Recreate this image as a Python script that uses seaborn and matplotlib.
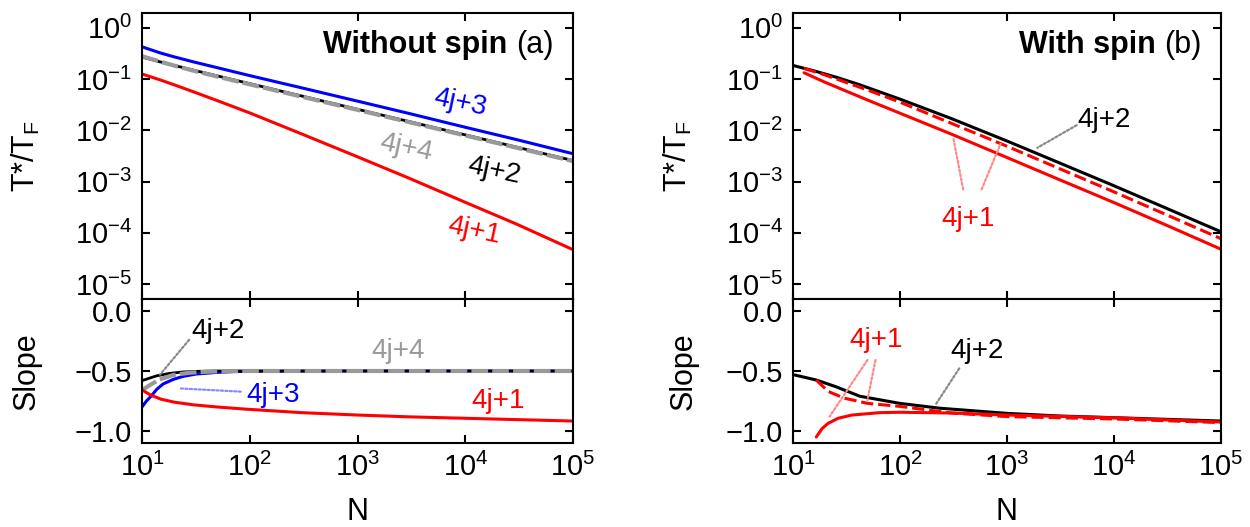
import numpy as np
import matplotlib
matplotlib.use("Agg")
import matplotlib.pyplot as plt
import seaborn as sns


# values

# (a) without spin, T*/T_F
N_a = [10, 15, 20, 30, 50, 100, 300, 1e3, 3e3, 1e4, 3e4, 1e5]
T_a_4j1 = [0.126, 0.0953, 0.0771, 0.0566, 0.038, 0.0219, 8.6e-3, 3.05e-3, 1.17e-3, 3.95e-4, 1.48e-4, 4.7e-5]
T_a_4j2 = [0.269, 0.215, 0.1845, 0.1496, 0.1156, 0.0817, 0.0471, 0.0258, 0.0149, 8.17e-3, 4.71e-3, 2.58e-3]
T_a_4j3 = [0.427, 0.321, 0.271, 0.217, 0.167, 0.117, 0.0679, 0.0372, 0.0214, 0.0115, 6.6e-3, 3.5e-3]
T_a_4j4 = [0.28, 0.217, 0.183, 0.146, 0.112, 0.079, 0.0457, 0.0251, 0.0145, 7.95e-3, 4.58e-3, 2.51e-3]

# (a) slopes
N_s1 = [10, 12, 15, 20, 30, 50, 80, 100, 300, 1e3, 3e3, 1e4, 3e4, 1e5]
S_a_4j1 = [-0.658, -0.70, -0.735, -0.76, -0.782, -0.80, -0.814, -0.82, -0.847, -0.867, -0.882, -0.894, -0.905, -0.917]
N_s2 = [10, 13.7, 18, 24, 32, 50, 100, 1e3, 1e5]
S_a_4j2 = [-0.58, -0.54, -0.52, -0.508, -0.503, -0.5, -0.5, -0.5, -0.5]
N_s3 = [10, 11, 12, 13.7, 15.7, 19.5, 24, 32, 49, 70, 100, 1e3, 1e5]
S_a_4j3 = [-0.80, -0.75, -0.715, -0.653, -0.608, -0.57, -0.545, -0.525, -0.512, -0.505, -0.502, -0.5, -0.5]
N_s4 = [10, 11.85, 14.6, 19.5, 28, 42.6, 70, 100, 1e3, 1e5]
S_a_4j4 = [-0.66, -0.617, -0.57, -0.533, -0.514, -0.505, -0.501, -0.5, -0.5, -0.5]

# (b) with spin, T*/T_F
N_b2 = [10, 16.5, 25, 42, 100, 300, 1e3, 3e3, 1e4, 3e4, 1e5]
T_b_4j2 = [0.185, 0.141, 0.110, 0.0776, 0.0407, 0.0171, 6.2e-3, 2.38e-3, 8.3e-4, 3.1e-4, 1.05e-4]
N_b1 = [12.7, 20, 50, 100, 300, 1e3, 3e3, 1e4, 3e4, 1e5]
T_b_4j1_dash = [0.162, 0.12, 0.061, 0.0355, 0.0138, 4.9e-3, 1.84e-3, 6.3e-4, 2.32e-4, 7.7e-5]
T_b_4j1 = [0.133, 0.0865, 0.0389, 0.0216, 8.5e-3, 2.95e-3, 1.12e-3, 3.9e-4, 1.45e-4, 4.8e-5]

# (b) slopes
N_bs2 = [10, 16.5, 25, 42, 100, 235, 1e3, 3.1e3, 1e4, 1e5]
S_b_4j2 = [-0.53, -0.575, -0.63, -0.71, -0.77, -0.81, -0.853, -0.875, -0.889, -0.917]
N_bs1d = [16.5, 21.3, 30, 50, 100, 300, 1e3, 1e4, 1e5]
S_b_4j1_dash = [-0.575, -0.67, -0.726, -0.77, -0.795, -0.85, -0.88, -0.90, -0.93]
N_bs1 = [16.5, 18.7, 21.3, 26.4, 35.6, 65, 100, 300, 1e3, 1e4, 1e5]
S_b_4j1 = [-1.05, -0.98, -0.936, -0.894, -0.867, -0.847, -0.844, -0.85, -0.867, -0.89, -0.925]


sns.set_theme(style="ticks")
plt.rcParams["font.family"] = ["Liberation Sans", "DejaVu Sans"]
plt.rcParams["mathtext.fontset"] = "custom"
plt.rcParams["mathtext.rm"] = "Liberation Sans"
plt.rcParams["mathtext.it"] = "Liberation Sans:italic"
for key in ("text.color", "axes.labelcolor", "xtick.color", "ytick.color", "axes.edgecolor"):
    plt.rcParams[key] = "black"

RED, BLUE, GRAY = "#ff0000", "#0000ff", "#999999"
LW = 2.2
FS_TICK, FS_LAB, FS_NOTE = 21, 22, 20

fig = plt.figure(figsize=(12.5, 5.27), dpi=100)
W, H = 1250, 527
ax_a = fig.add_axes([142 / W, (H - 299) / H, 431 / W, 286 / H])
ax_as = fig.add_axes([142 / W, (H - 443) / H, 431 / W, 144 / H])
ax_b = fig.add_axes([793 / W, (H - 299) / H, 428 / W, 286 / H])
ax_bs = fig.add_axes([793 / W, (H - 443) / H, 428 / W, 144 / H])


def line(ax, x, y, color, lw=LW, ls="-"):
    sns.lineplot(x=x, y=y, ax=ax, color=color, lw=lw, linestyle=ls, errorbar=None)


def connector(ax, xy, xytext, color):
    ax.annotate("", xy=xy, xytext=xytext,
                arrowprops=dict(arrowstyle="-", color=color, lw=1.6,
                                linestyle=(0, (1, 1)), shrinkA=0, shrinkB=0))


# (a) top
line(ax_a, N_a, T_a_4j3, BLUE)
line(ax_a, N_a, T_a_4j2, "black", lw=2.0)
line(ax_a, N_a, T_a_4j4, GRAY, lw=3.0, ls=(0, (4, 1)))
line(ax_a, N_a, T_a_4j1, RED)

# (a) slope
line(ax_as, N_s3, S_a_4j3, BLUE)
line(ax_as, N_s2, S_a_4j2, "black", lw=2.0)
line(ax_as, N_s4, S_a_4j4, GRAY, lw=3.0, ls=(0, (4, 1)))
line(ax_as, N_s1, S_a_4j1, RED)

# (b) top
line(ax_b, N_b2, T_b_4j2, "black")
line(ax_b, N_b1, T_b_4j1_dash, RED, ls=(0, (4, 1.6)))
line(ax_b, N_b1, T_b_4j1, RED)

# (b) slope
line(ax_bs, N_bs2, S_b_4j2, "black")
line(ax_bs, N_bs1d, S_b_4j1_dash, RED, ls=(0, (4, 1.6)))
line(ax_bs, N_bs1, S_b_4j1, RED)

for ax in (ax_a, ax_b):
    ax.set_xscale("log")
    ax.set_yscale("log")
    ax.set_ylim(10 ** -5.29, 10 ** 0.29)
    ax.set_yticks([1e0, 1e-1, 1e-2, 1e-3, 1e-4, 1e-5])
    ax.tick_params(axis="x", labelbottom=False)
    ax.set_ylabel(r"T*/T$_\mathregular{F}$", fontsize=FS_LAB)
    ax.yaxis.set_label_coords(-0.232, 0.5)

for ax in (ax_as, ax_bs):
    ax.set_xscale("log")
    ax.set_ylim(-1.1, 0.1)
    ax.set_yticks([-1.0, -0.5, 0.0])
    ax.set_ylabel("Slope", fontsize=FS_LAB)
    ax.set_xlabel("N", fontsize=FS_LAB)
    ax.xaxis.set_label_coords(0.5, -0.375)
ax_as.yaxis.set_label_coords(-0.232, 0.5)
ax_bs.yaxis.set_label_coords(-0.22, 0.5)

for ax in (ax_a, ax_as, ax_b, ax_bs):
    ax.set_xlim(10, 1e5)
    ax.set_xticks([1e1, 1e2, 1e3, 1e4, 1e5])
    ax.minorticks_off()
    ax.tick_params(direction="in", top=True, right=True, length=6, width=1.5,
                   labelsize=FS_TICK, pad=7, colors="black")
    for s in ax.spines.values():
        s.set_linewidth(1.5)
        s.set_color("black")

# panel titles
for ax, title, tag in ((ax_a, "Without spin", "(a)"), (ax_b, "With spin", "(b)")):
    t = ax.text(10 ** 4.82, 10 ** -0.484, tag, fontsize=FS_LAB, ha="right",
                va="baseline")
    ax.annotate(title + " ", xy=(0, 0), xycoords=t, ha="right", va="bottom",
                fontsize=FS_LAB, fontweight="bold")

# (a) top labels
ax_a.text(10 ** 3.95, 10 ** -1.47, "4j+3", color=BLUE, fontsize=FS_NOTE,
          rotation=-12, ha="center", va="center")
ax_a.text(10 ** 3.45, 10 ** -2.35, "4j+4", color=GRAY, fontsize=FS_NOTE,
          rotation=-12, ha="center", va="center")
ax_a.text(10 ** 4.27, 10 ** -2.78, "4j+2", color="black", fontsize=FS_NOTE,
          rotation=-12, ha="center", va="center")
ax_a.text(10 ** 4.08, 10 ** -3.96, "4j+1", color=RED, fontsize=FS_NOTE,
          rotation=-12, ha="center", va="center")

# (a) slope labels
ax_as.text(28.5, -0.225, "4j+2", color="black", fontsize=FS_NOTE, va="baseline")
connector(ax_as, (14.7, -0.53), (27.4, -0.24), "#888888")
ax_as.text(93, -0.755, "4j+3", color=BLUE, fontsize=FS_NOTE, va="baseline")
connector(ax_as, (22.2, -0.645), (82.6, -0.672), "#8888ff")
ax_as.text(1350, -0.395, "4j+4", color=GRAY, fontsize=FS_NOTE, va="baseline")
ax_as.text(10 ** 4.06, -0.81, "4j+1", color=RED, fontsize=FS_NOTE, va="baseline")

# (b) top labels
ax_b.text(10 ** 3.66, 10 ** -1.935, "4j+2", color="black", fontsize=FS_NOTE,
          va="baseline")
connector(ax_b, (10 ** 3.283, 10 ** -2.34), (10 ** 3.65, 10 ** -1.90), "#888888")
ax_b.text(10 ** 2.387, 10 ** -3.86, "4j+1", color=RED, fontsize=FS_NOTE,
          va="baseline")
connector(ax_b, (10 ** 2.498, 10 ** -2.14), (10 ** 2.59, 10 ** -3.15), "#ff8888")
connector(ax_b, (10 ** 2.94, 10 ** -2.26), (10 ** 2.763, 10 ** -3.15), "#ff8888")

# (b) slope labels
ax_bs.text(10 ** 1.528, -0.297, "4j+1", color=RED, fontsize=FS_NOTE,
           va="baseline")
connector(ax_bs, (10 ** 1.342, -0.88), (10 ** 1.696, -0.408), "#ff8888")
connector(ax_bs, (10 ** 1.696, -0.742), (10 ** 1.771, -0.408), "#ff8888")
ax_bs.text(10 ** 2.472, -0.395, "4j+2", color="black", fontsize=FS_NOTE,
           va="baseline")
connector(ax_bs, (10 ** 2.331, -0.783), (10 ** 2.554, -0.478), "#888888")

fig.savefig("out.png", dpi=100)
